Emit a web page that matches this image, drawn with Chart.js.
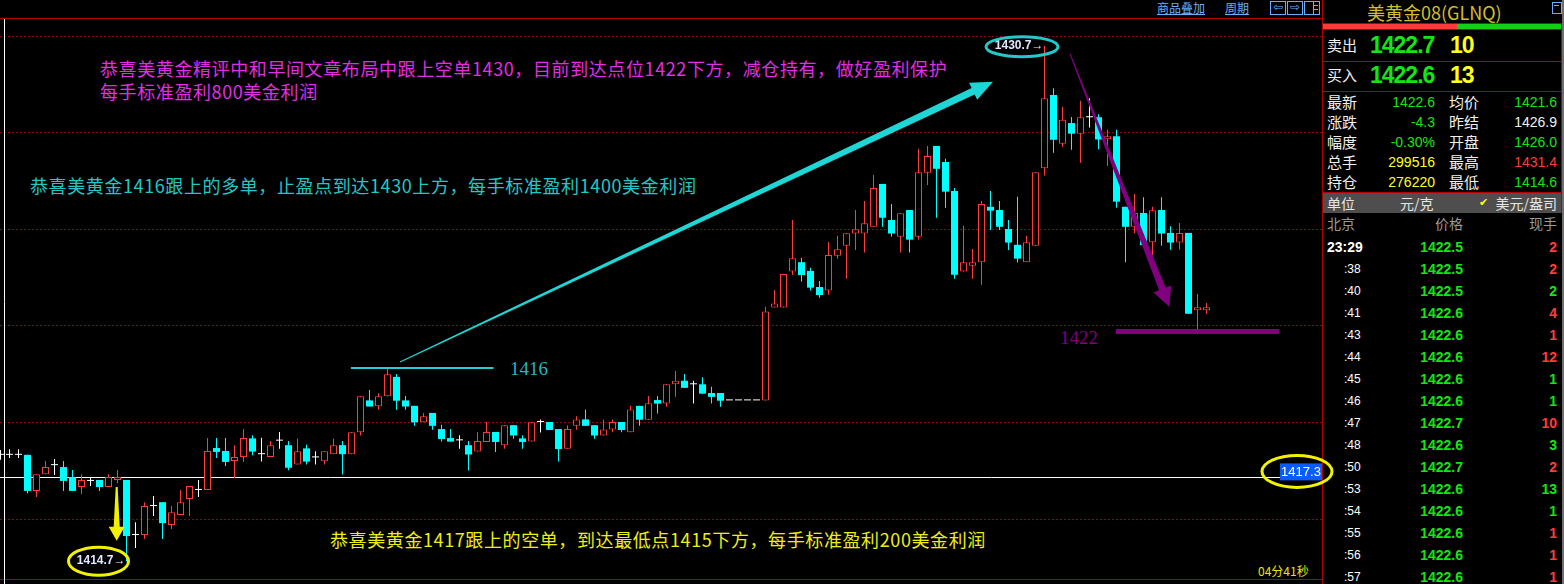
<!DOCTYPE html>
<html lang="zh-CN">
<head>
<meta charset="utf-8">
<title>美黄金08(GLNQ)</title>
<script src="https://cdn.jsdelivr.net/npm/chart.js@4.4.1/dist/chart.umd.min.js"></script>
<style>
html,body{margin:0;padding:0;background:#000;overflow:hidden;}
#wrap{position:relative;width:1564px;height:584px;background:#000;overflow:hidden;font-family:"Noto Sans CJK SC","Noto Sans",sans-serif;}
#kline{position:absolute;left:0;top:0;z-index:5;}
.abs{position:absolute;white-space:nowrap;}
.note{font-size:18px;line-height:22px;letter-spacing:0.6px;}
.num{font-family:"Liberation Sans",Arial,sans-serif;}
.serif{font-family:"Liberation Serif","Times New Roman",serif;}
</style>
</head>
<body>
<div id="wrap">
  <canvas id="kline" width="1340" height="584"></canvas>

  <div class="abs note" style="left:100px;top:57px;color:#e22ee2;">恭喜美黄金精评中和早间文章布局中跟上空单1430，目前到达点位1422下方，减仓持有，做好盈利保护</div>
  <div class="abs note" style="left:100px;top:80px;color:#e22ee2;">每手标准盈利800美金利润</div>
  <div class="abs note" style="left:30px;top:174px;color:#22c8c8;">恭喜美黄金1416跟上的多单，止盈点到达1430上方，每手标准盈利1400美金利润</div>
  <div class="abs note" style="left:330px;top:528px;color:#eeee10;">恭喜美黄金1417跟上的空单，到达最低点1415下方，每手标准盈利200美金利润</div>
  <div class="abs serif" style="left:510px;top:358px;font-size:19px;line-height:22px;color:#22b8c0;">1416</div>
  <div class="abs serif" style="left:1060px;top:327px;font-size:19px;line-height:22px;color:#800080;">1422</div>
  <div class="abs" style="left:1258px;top:563px;font-size:12px;line-height:15px;color:#e6e600;">04分41秒</div>
</div>

<script>
// ---- 5-minute candles, oldest first ----
const openPx = [
  1418.00,1418.00,1418.00,1418.00,1416.88,1417.40,1417.68,1417.62,1417.31,1417.00,
  1417.19,1417.22,1417.00,1417.22,1417.22,1415.51,1415.51,1416.41,1416.53,1415.82,
  1416.13,1416.63,1416.91,1416.91,1418.21,1418.12,1417.81,1417.93,1418.51,1418.02,
  1417.93,1418.44,1418.30,1417.70,1418.20,1417.92,1417.80,1418.02,1418.30,1418.02,
  1418.70,1419.69,1419.51,1419.82,1420.42,1419.69,1419.52,1419.01,1419.30,1418.80,
  1418.52,1418.45,1418.30,1418.10,1418.40,1418.71,1418.30,1418.92,1418.51,1418.41,
  1419.02,1419.02,1418.80,1418.19,1418.90,1419.10,1418.92,1418.60,1418.79,1419.02,
  1418.70,1419.52,1419.09,1419.70,1419.59,1420.19,1420.30,1420.19,1420.19,1419.92,
  1419.92,1419.69,1419.69,1419.69,1419.69,1419.69,1422.57,1422.57,1423.69,1423.98,
  1423.71,1423.21,1423.10,1424.18,1424.49,1424.87,1424.87,1425.08,1426.41,1425.29,
  1424.77,1425.60,1424.77,1426.76,1427.59,1427.09,1426.19,1423.69,1423.87,1423.98,
  1425.70,1425.60,1425.01,1424.52,1423.98,1424.49,1426.90,1429.17,1427.66,1428.30,
  1427.97,1428.48,1428.48,1427.80,1427.89,1425.70,1425.08,1425.51,1424.60,1425.60,
  1424.89,1424.59,1424.89,1422.49,1422.49
];
const highPx = [
  1418.15,1418.17,1418.17,1418.00,1417.40,1417.81,1417.87,1417.81,1417.53,1417.40,
  1417.31,1417.22,1417.40,1417.53,1417.22,1415.91,1416.53,1416.72,1416.53,1416.41,
  1416.91,1417.03,1417.22,1418.52,1418.52,1418.52,1418.30,1418.80,1418.61,1418.53,
  1418.43,1418.71,1418.43,1418.51,1418.31,1418.11,1418.11,1418.51,1418.43,1418.70,
  1419.82,1420.01,1419.91,1420.69,1420.51,1419.83,1419.52,1419.30,1419.30,1418.93,
  1418.80,1418.61,1418.43,1418.70,1419.02,1418.71,1418.92,1418.92,1418.61,1419.01,
  1419.10,1419.02,1418.80,1418.92,1419.20,1419.41,1418.92,1419.10,1419.10,1419.02,
  1419.52,1419.52,1419.83,1419.83,1420.19,1420.60,1420.51,1420.30,1420.41,1420.11,
  1419.92,1419.69,1419.69,1419.69,1419.69,1422.60,1423.12,1423.61,1425.29,1424.12,
  1423.81,1423.40,1424.61,1424.80,1424.88,1425.60,1425.88,1426.69,1426.41,1425.79,
  1425.50,1425.60,1427.50,1427.59,1427.59,1427.19,1426.28,1425.11,1424.39,1425.88,
  1426.19,1425.88,1425.29,1426.01,1424.80,1426.77,1430.70,1429.38,1428.80,1428.49,
  1428.99,1429.07,1428.57,1428.09,1428.09,1425.70,1426.10,1426.00,1425.70,1426.00,
  1425.10,1425.20,1424.89,1422.99,1422.71
];
const lowPx = [
  1417.85,1417.90,1417.90,1416.81,1416.69,1417.40,1417.37,1416.88,1416.88,1416.78,
  1417.03,1416.88,1417.00,1417.12,1414.70,1415.11,1415.39,1416.10,1415.39,1415.70,
  1416.13,1416.10,1416.69,1416.91,1417.90,1417.65,1417.28,1417.78,1417.99,1417.79,
  1417.93,1418.19,1417.52,1417.70,1417.70,1417.70,1417.70,1418.02,1417.39,1418.02,
  1418.60,1419.50,1419.40,1419.82,1419.40,1419.40,1418.90,1419.01,1418.78,1418.41,
  1418.41,1418.19,1417.51,1418.10,1418.40,1418.09,1418.19,1418.50,1418.19,1418.41,
  1418.69,1418.77,1417.79,1418.19,1418.78,1418.90,1418.50,1418.60,1418.70,1418.70,
  1418.70,1418.90,1419.09,1419.28,1419.49,1419.80,1420.08,1419.59,1419.90,1419.59,
  1419.49,1419.69,1419.69,1419.69,1419.69,1419.69,1422.57,1422.57,1423.58,1423.38,
  1423.10,1422.88,1422.97,1424.09,1423.47,1424.36,1424.28,1425.08,1425.08,1424.77,
  1424.28,1424.28,1424.68,1426.38,1425.36,1425.67,1423.47,1423.69,1423.47,1423.28,
  1424.98,1424.98,1424.36,1423.97,1423.98,1424.49,1426.67,1427.38,1427.56,1427.47,
  1427.07,1428.16,1427.49,1426.97,1425.67,1423.98,1424.88,1424.51,1424.20,1424.49,
  1424.37,1424.37,1422.38,1421.91,1422.38
];
const closePx = [
  1418.00,1418.00,1418.00,1416.88,1417.40,1417.62,1417.68,1417.19,1416.88,1417.22,
  1417.19,1417.00,1417.31,1417.31,1415.48,1415.51,1416.41,1416.41,1415.88,1416.22,
  1416.53,1417.03,1416.91,1418.12,1418.09,1417.78,1417.93,1418.52,1418.10,1418.02,
  1418.30,1418.44,1417.60,1418.11,1417.79,1417.92,1418.11,1418.30,1418.02,1418.70,
  1419.82,1419.50,1419.82,1420.50,1419.68,1419.50,1419.01,1419.20,1418.90,1418.49,
  1418.41,1418.45,1418.01,1418.43,1418.71,1418.40,1418.92,1418.60,1418.40,1419.01,
  1419.02,1418.77,1418.18,1418.80,1419.10,1418.90,1418.60,1418.79,1419.02,1418.77,
  1419.41,1419.09,1419.60,1419.59,1420.19,1420.30,1420.08,1420.19,1419.90,1419.80,
  1419.68,1419.69,1419.69,1419.69,1419.69,1422.45,1422.70,1423.61,1424.10,1423.58,
  1423.19,1422.96,1424.20,1424.38,1424.88,1425.00,1425.19,1426.28,1425.36,1424.87,
  1425.50,1424.68,1426.77,1427.28,1426.88,1426.17,1423.59,1423.98,1423.98,1425.79,
  1425.58,1425.08,1424.59,1424.09,1424.60,1426.77,1429.07,1427.78,1428.40,1427.97,
  1428.48,1428.48,1427.79,1427.89,1425.86,1425.08,1425.51,1424.51,1425.59,1424.87,
  1424.59,1424.89,1422.38,1422.58,1422.58
];

// price window and reference levels
const priceMin = 1413.99;
const priceMax = 1432.12;
const gridStep = 3;
const crossPrice = 1417.3;   // cursor line
const crossIndex = 0.47;
const targetLevel = 1422;    // short target
const longMarkIdx = 43;      // bar whose high carries the 1416 long marker

// ---- quote panel ----
const quoteTitle = '美黄金08(GLNQ)';
const askPx = '1422.7', askVol = '10';
const bidPx = '1422.6', bidVol = '13';
const statNamesL = ['最新','涨跌','幅度','总手','持仓'];
const statValsL  = ['1422.6','-4.3','-0.30%','299516','276220'];
const statTypeL  = ['g','g','g','y','y'];
const statNamesR = ['均价','昨结','开盘','最高','最低'];
const statValsR  = ['1421.6','1426.9','1426.0','1431.4','1414.6'];
const statTypeR  = ['g','w','g','r','g'];
const tradeTimes  = ['23:29',':38',':40',':41',':43',':44',':45',':46',':47',':48',':50',':53',':54',':55',':56',':57'];
const tradePrices = ['1422.5','1422.5','1422.5','1422.6','1422.6','1422.6','1422.6','1422.6','1422.7','1422.6','1422.7','1422.6','1422.6','1422.6','1422.6','1422.6'];
const tradeVols   = [2,2,2,4,1,12,1,1,10,3,2,13,1,1,1,1];
const tradeSide   = ['r','r','g','r','r','r','g','g','r','g','r','g','g','r','r','r'];

const COL = { g:'#14e614', r:'#ff3c3c', y:'#ffff1e', w:'#f0f0f0' };
const UP = '#ff3c3c', DOWN = '#00ffff', FLAT = '#ffffff';

const idx = openPx.map((_, i) => i);
function candleColor(i) {
  const o = openPx[i], c = closePx[i];
  return c > o ? UP : (c < o ? DOWN : FLAT);
}

function taperArrow(ctx, x0, y0, x1, y1, w0, w1, headLen, headW, color) {
  const dx = x1 - x0, dy = y1 - y0, len = Math.hypot(dx, dy);
  const ux = dx / len, uy = dy / len, nx = -uy, ny = ux;
  const bx = x1 - ux * headLen, by = y1 - uy * headLen;
  ctx.fillStyle = color;
  ctx.beginPath();
  ctx.moveTo(x0 + nx * w0 / 2, y0 + ny * w0 / 2);
  ctx.lineTo(bx + nx * w1 / 2, by + ny * w1 / 2);
  ctx.lineTo(bx + nx * headW / 2, by + ny * headW / 2);
  ctx.lineTo(x1, y1);
  ctx.lineTo(bx - nx * headW / 2, by - ny * headW / 2);
  ctx.lineTo(bx - nx * w1 / 2, by - ny * w1 / 2);
  ctx.lineTo(x0 - nx * w0 / 2, y0 - ny * w0 / 2);
  ctx.closePath();
  ctx.fill();
}

const overlays = {
  id: 'overlays',
  beforeDatasetsDraw(chart) {
    const { ctx, chartArea: a, scales: { x, y } } = chart;
    ctx.save();
    ctx.strokeStyle = '#ffffff';
    ctx.lineWidth = 1;
    const cy = Math.round(y.getPixelForValue(crossPrice)) + 0.5;
    ctx.beginPath(); ctx.moveTo(a.left, cy); ctx.lineTo(a.right, cy); ctx.stroke();
    const cx = Math.floor(x.getPixelForValue(crossIndex)) + 0.5;
    ctx.beginPath(); ctx.moveTo(cx, 19); ctx.lineTo(cx, a.bottom); ctx.stroke();
    ctx.restore();
  },
  afterDatasetsDraw(chart) {
    const { ctx, chartArea: a, scales: { x, y } } = chart;
    const X = v => x.getPixelForValue(v), Y = v => y.getPixelForValue(v);
    ctx.save();

    // marker line on the swing high
    ctx.fillStyle = '#22d0d4';
    ctx.fillRect(X(38.94), Math.round(Y(highPx[longMarkIdx])) - 1, X(54.78) - X(38.94), 2);

    // long idea arrow
    taperArrow(ctx, X(44.39), Y(1420.88), X(110.28), Y(1429.58), 1, 7, 22, 19, '#1ed6d6');

    // short idea arrow
    taperArrow(ctx, X(118.83), Y(1430.45), X(129.87), Y(1422.6), 1, 7, 19, 19, '#800080');

    // target bar just under the level
    ctx.fillStyle = '#800080';
    ctx.fillRect(X(123.94), Y(targetLevel) + 3, X(142.06) - X(123.94), 5);

    // down arrow onto the low
    taperArrow(ctx, X(12.91), Y(1417.0), X(12.91), Y(1415.33), 2, 6, 14, 16, '#f0f000');

    // extreme labels
    let lowIdx = 0, highIdx = 0;
    lowPx.forEach((v, i) => { if (v < lowPx[lowIdx]) lowIdx = i; });
    highPx.forEach((v, i) => { if (v > highPx[highIdx]) highIdx = i; });
    const lowVal = lowPx[lowIdx], highVal = highPx[highIdx];
    ctx.font = 'bold 12px "Liberation Sans", Arial, sans-serif';
    ctx.textBaseline = 'middle';
    ctx.textAlign = 'right';
    ctx.fillStyle = '#e2e8ff';
    ctx.fillText(lowVal.toFixed(1) + '→', X(lowIdx) - 1, Y(lowVal));
    ctx.fillText(highVal.toFixed(1) + '→', X(highIdx) - 1, Y(highVal));

    ctx.lineWidth = 3;
    ctx.strokeStyle = '#f2f200';
    ctx.beginPath(); ctx.ellipse(X(10.89), Y(lowVal), 30, 14, 0, 0, Math.PI * 2); ctx.stroke();
    ctx.strokeStyle = '#22c8cc';
    ctx.beginPath(); ctx.ellipse(X(113.5), Y(highVal) + 1, 36, 10, 0, 0, Math.PI * 2); ctx.stroke();

    // cursor price tag
    const ty = Y(crossPrice);
    ctx.fillStyle = '#0a5cff';
    ctx.fillRect(a.right - 42, ty - 14, 42, 17);
    ctx.fillStyle = '#ffffff';
    ctx.font = '13px "Liberation Sans", Arial, sans-serif';
    ctx.textAlign = 'center';
    ctx.fillText(crossPrice.toFixed(1), a.right - 21, ty - 5);
    ctx.strokeStyle = '#f2f200';
    ctx.lineWidth = 3;
    ctx.beginPath(); ctx.ellipse(a.right - 25, ty - 6, 35, 16, 0, 0, Math.PI * 2); ctx.stroke();

    ctx.restore();
  }
};

new Chart(document.getElementById('kline'), {
  type: 'bar',
  data: {
    datasets: [
      {
        label: '实体',
        order: 0,
        data: idx.map(i => ({ x: i, y: [openPx[i], closePx[i]] })),
        grouped: false,
        barThickness: 7,
        minBarLength: 1,
        borderSkipped: false,
        inflateAmount: 0,
        backgroundColor: c => (candleColor(c.dataIndex) === UP ? '#000000' : candleColor(c.dataIndex)),
        borderColor: c => candleColor(c.dataIndex),
        borderWidth: c => (candleColor(c.dataIndex) === UP ? 1 : 0)
      },
      {
        label: '影线',
        order: 1,
        data: idx.map(i => ({ x: i, y: [lowPx[i], highPx[i]] })),
        grouped: false,
        barThickness: 1,
        borderWidth: 0,
        inflateAmount: 0,
        backgroundColor: c => candleColor(c.dataIndex)
      }
    ]
  },
  options: {
    responsive: false,
    devicePixelRatio: 1,
    animation: false,
    events: [],
    layout: { padding: { left: 0, top: 0, bottom: 0, right: 18 } },
    plugins: { legend: { display: false }, tooltip: { enabled: false } },
    scales: {
      x: {
        type: 'linear',
        display: false,
        offset: false,
        min: -0.5 / 9,
        max: -0.5 / 9 + 1322 / 9
      },
      y: {
        type: 'linear',
        position: 'left',
        min: priceMin,
        max: priceMax,
        ticks: { display: false, stepSize: gridStep },
        afterBuildTicks: s => {
          s.ticks = s.ticks.filter(t => Math.abs(t.value / gridStep - Math.round(t.value / gridStep)) < 1e-6);
        },
        grid: { color: '#9a0000', lineWidth: 1, drawTicks: false },
        border: { display: false, dash: [2, 2] }
      }
    }
  },
  plugins: [overlays]
});

// ---- frame, toolbar and quote panel ----
const wrap = document.getElementById('wrap');
function box(css) {
  const d = document.createElement('div');
  d.style.cssText = 'position:absolute;' + css;
  wrap.appendChild(d);
  return d;
}
function txt(s, css, cls) {
  const d = document.createElement('div');
  d.className = 'abs' + (cls ? ' ' + cls : '');
  d.textContent = s;
  d.style.cssText = css;
  wrap.appendChild(d);
  return d;
}
const RED_LINE = '#b40000';

// toolbar
box(`left:0;top:18px;width:1322px;height:1px;background:${RED_LINE};`);
box(`left:0;top:579px;width:1322px;height:1px;background:${RED_LINE};`);
txt('商品叠加', 'left:1157px;top:0px;font-size:12px;line-height:16px;color:#6aaefc;text-decoration:underline;');
txt('周期', 'left:1225px;top:0px;font-size:12px;line-height:16px;color:#6aaefc;text-decoration:underline;');
['⇦', '⇨'].forEach((s, k) => {
  box(`left:${1270 + k * 17}px;top:1px;width:14px;height:12px;border:1px solid #6aaefc;`);
  txt(s, `left:${1271 + k * 17}px;top:0px;width:14px;text-align:center;font-size:12px;line-height:14px;color:#6aaefc;font-family:"DejaVu Sans";`);
});
box('left:1304px;top:1px;width:14px;height:12px;border:1px solid #6aaefc;');
box('left:1313px;top:1px;width:1px;height:13px;background:#6aaefc;');
box('left:1314px;top:5px;width:4px;height:1px;background:#6aaefc;');
box('left:1314px;top:9px;width:4px;height:1px;background:#6aaefc;');

// panel frame
box(`left:1322px;top:0;width:1px;height:584px;background:${RED_LINE};`);
box(`left:1561px;top:23px;width:1px;height:190px;background:${RED_LINE};`);
box('left:1562px;top:0;width:2px;height:584px;background:#6e6e6e;');
txt(quoteTitle, 'left:1367px;top:0px;font-size:18px;line-height:24px;color:#d4bd2e;');
box('left:1552px;top:2px;width:8px;height:10px;border:1px solid #6aaefc;');
box('left:1554px;top:5px;width:5px;height:1px;background:#6aaefc;');
box(`left:1323px;top:23px;width:238px;height:1px;background:${RED_LINE};`);
box('left:1323px;top:24px;width:134px;height:5px;background:#ff3a3a;');
box('left:1457px;top:24px;width:104px;height:5px;background:#14d014;');
[29, 61, 91, 192].forEach(yy => box(`left:1323px;top:${yy}px;width:238px;height:1px;background:${RED_LINE};`));

// ask / bid
[['卖出', askPx, askVol, 45], ['买入', bidPx, bidVol, 75]].forEach(([name, p, v, cy]) => {
  txt(name, `left:1327px;top:${cy - 11}px;font-size:15px;line-height:22px;color:#f0f0f0;`);
  txt(p, `left:1370px;top:${cy - 14}px;font-size:23px;line-height:28px;font-weight:bold;letter-spacing:-1px;color:${COL.g};`, 'num');
  txt(v, `left:1450px;top:${cy - 14}px;font-size:23px;line-height:28px;font-weight:bold;letter-spacing:-1px;color:${COL.y};`, 'num');
});

// statistics
statNamesL.forEach((name, k) => {
  const cy = 102 + k * 20;
  txt(name, `left:1327px;top:${cy - 10}px;font-size:15px;line-height:20px;color:#f0f0f0;`);
  txt(statValsL[k], `right:${1564 - 1435}px;top:${cy - 9}px;font-size:14px;line-height:18px;color:${COL[statTypeL[k]]};`, 'num');
  txt(statNamesR[k], `left:1449px;top:${cy - 10}px;font-size:15px;line-height:20px;color:#f0f0f0;`);
  txt(statValsR[k], `right:${1564 - 1557}px;top:${cy - 9}px;font-size:14px;line-height:18px;color:${COL[statTypeR[k]]};`, 'num');
});

// unit bar
box('left:1323px;top:193px;width:238px;height:20px;background:#4e4e4e;');
txt('单位', 'left:1327px;top:193px;font-size:14px;line-height:20px;color:#e6e6e6;');
txt('元/克', 'left:1400px;top:193px;font-size:14px;line-height:20px;color:#e6e6e6;');
txt('✔', 'left:1479px;top:193px;font-size:11px;line-height:20px;color:#ffff00;font-family:"DejaVu Sans";');
txt('美元/盎司', 'right:7px;top:193px;font-size:14px;line-height:20px;color:#e6e6e6;');

// time & sales
txt('北京', 'left:1327px;top:213px;font-size:14px;line-height:20px;color:#9a9a9a;');
txt('价格', 'right:101px;top:213px;font-size:14px;line-height:20px;color:#9a9a9a;');
txt('现手', 'right:7px;top:213px;font-size:14px;line-height:20px;color:#9a9a9a;');
tradeTimes.forEach((t, k) => {
  const cy = 247 + k * 22;
  if (k === 0) {
    txt(t, `left:1327px;top:${cy - 9}px;font-size:14px;line-height:18px;font-weight:bold;color:#ffffff;`, 'num');
  } else {
    txt(t, `left:1344px;top:${cy - 8}px;font-size:12px;line-height:16px;color:#ffffff;`, 'num');
  }
  txt(tradePrices[k], `right:101px;top:${cy - 9}px;font-size:14px;line-height:18px;font-weight:bold;color:${COL.g};`, 'num');
  txt(String(tradeVols[k]), `right:7px;top:${cy - 9}px;font-size:14px;line-height:18px;font-weight:bold;color:${COL[tradeSide[k]]};`, 'num');
});
</script>
</body>
</html>
